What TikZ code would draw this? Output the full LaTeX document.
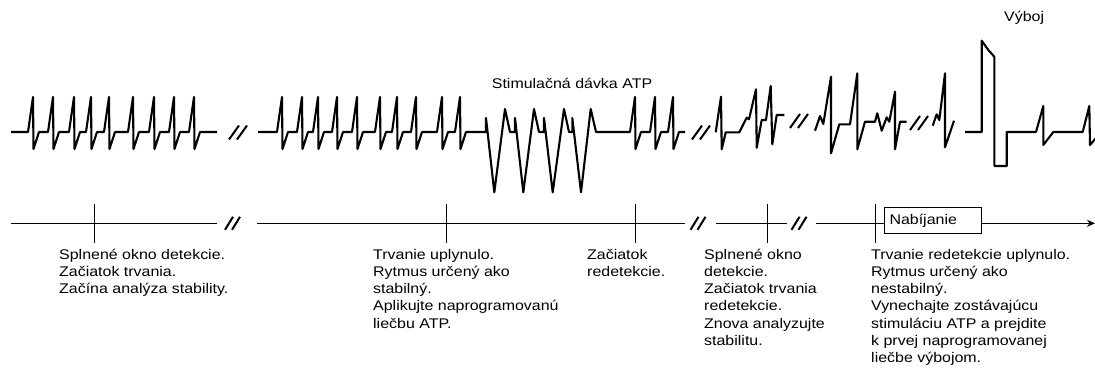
\documentclass[tikz,border=0pt]{standalone}
\usepackage{fontspec}
\setmainfont{Liberation Sans}[FakeStretch=1.14]
\usetikzlibrary{arrows.meta}

\begin{document}
\begin{tikzpicture}[x=1pt, y=-1pt,
  ecg/.style={line width=2.1pt, line join=round},
  tl/.style={line width=1pt},
  brk/.style={line width=2pt},
  lbl/.style={anchor=north west, inner sep=0, align=left, font=\fontsize{14}{17.2}\selectfont},
  txt/.style={anchor=base west, inner sep=0, font=\fontsize{14}{17.2}\selectfont}]
\useasboundingbox (0,0) rectangle (1095,376);
% strip
\draw[ecg] (11,132) foreach \p in {33,53,74,91,109,133,154,174,194} { -- (\p-5,132) -- (\p,97) -- (\p+0.5,149) -- (\p+6,132) } -- (217,132);
\draw[ecg] (258,132) foreach \p in {282,302,318,337,357,380,397,416,442,460} { -- (\p-5,132) -- (\p,97) -- (\p+0.5,149) -- (\p+6,132) }
  -- (486,132) -- (486,118) -- (494.3,192.3) -- (505,109) -- (510,132) -- (515,132) -- (515,118) -- (523.3,192.3) -- (534,109) -- (539,132)
  -- (544,132) -- (544,118) -- (552.7,192.3) -- (564,109) -- (569,132) -- (572.3,132) -- (572.3,118) -- (581,192.3) -- (590.7,109) -- (596,132)
  foreach \p in {635,655,673} { -- (\p-5,132) -- (\p,97) -- (\p+0.5,149) -- (\p+6,132) } -- (685,132);
\draw[ecg] (715.7,132.3) -- (721,96.7) -- (721.7,149.3) -- (725.7,132.3) -- (739.3,132.3) -- (746.7,117.7) -- (749,119.3) -- (756,89.3) -- (756.7,147.7)
  -- (761.7,120) -- (766,120) -- (770.7,86) -- (772.3,144.3) -- (776.7,115) -- (784.3,115);
\draw[ecg] (815,130.7) -- (820,116) -- (823.3,124) -- (831,76.7) -- (831,153.3) -- (839.3,124.3) -- (850,124.3) -- (857.3,73.3) -- (857.3,149.3)
  -- (865,121.7) -- (875,121.7) -- (877.3,113.3) -- (881.7,130.7) -- (886.7,117.3) -- (889.3,121.7) -- (895,91.7) -- (895,149.3) -- (900,121.7) -- (906.7,121.7);
\draw[ecg] (932.7,125.7) -- (936.7,114.3) -- (939.3,120) -- (945,73.3) -- (945,147.3) -- (954,120.7);
\draw[ecg] (965,132) -- (981.7,132) -- (981.7,40.7) -- (988.3,50) -- (994.3,56.7) -- (994.3,166) -- (1006.7,166) -- (1006.7,132) -- (1036,132)
  -- (1043.3,106) -- (1043.3,145) -- (1053.3,132) -- (1082.7,132) -- (1089.3,106) -- (1090,145) -- (1096,138);
\foreach \x/\y in {229/132.5, 692/132.5, 790/121, 910/123}
  \draw[brk] (\x,\y+7) -- (\x+10,\y-7) (\x+8,\y+7) -- (\x+18,\y-7);
\node[txt] (atp) at (491.7,88.3) {Stimulačná dávka ATP};
\node[txt] (shock) at (1004,21) {Výboj};
% time line
\coordinate (a0) at (10.7,223.3);
\coordinate (a1) at (216.7,223.3);
\coordinate (a2) at (257,223.3);
\coordinate (a3) at (685,223.3);
\coordinate (a4) at (716,223.3);
\coordinate (a5) at (786.7,223.3);
\coordinate (a6) at (816,223.3);
\coordinate (a7) at (1095,223.3);
\node[draw, tl, anchor=west, text width=87pt, inner xsep=5pt, inner ysep=0, minimum height=25.6pt, align=left, font=\fontsize{14}{17.2}\selectfont] (charge) at (884,220.5) {Nabíjanie};
\draw[tl] (a0) -- (a1);
\draw[tl] (a2) -- (a3);
\draw[tl] (a4) -- (a5);
\draw[tl] (a6) -- (charge.west |- a6);
\draw[tl, -{Stealth[length=8pt, width=7pt]}] (charge.east |- a6) -- (a7);
\foreach \x/\y in {225/223.3, 690.5/223.3, 791.5/223.3}
  \draw[brk] (\x,\y+6.5) -- (\x+8,\y-6.5) (\x+7,\y+6.5) -- (\x+15,\y-6.5);
\foreach \x/\n in {94/0, 446.7/1, 635.7/2, 767.3/3, 875/4} {
  \coordinate (tk\n a) at (\x,203.5);
  \coordinate (tk\n b) at (\x,242.5);
  \draw[tl] (tk\n a) -- (tk\n b);
}
\node[lbl] (lb0) at (59,247.1) {\strut Splnené okno detekcie.\\Začiatok trvania.\\Začína analýza stability.};
\node[lbl] (lb1) at (373,247.1) {\strut Trvanie uplynulo.\\Rytmus určený ako\\stabilný.\\Aplikujte naprogramovanú\\liečbu ATP.};
\node[lbl] (lb2) at (587,247.1) {\strut Začiatok\\redetekcie.};
\node[lbl] (lb3) at (704,247.1) {\strut Splnené okno\\detekcie.\\Začiatok trvania\\redetekcie.\\Znova analyzujte\\stabilitu.};
\node[lbl] (lb4) at (871,247.1) {\strut Trvanie redetekcie uplynulo.\\Rytmus určený ako\\nestabilný.\\Vynechajte zostávajúcu\\stimuláciu ATP a prejdite\\k prvej naprogramovanej\\liečbe výbojom.};
\end{tikzpicture}
\end{document}
